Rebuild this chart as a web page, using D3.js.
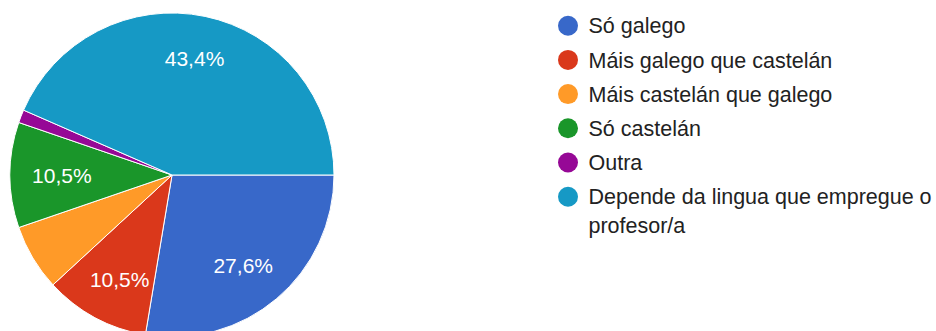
<!DOCTYPE html>
<html>
<head>
<meta charset="utf-8">
<script src="https://cdn.jsdelivr.net/npm/d3@7/dist/d3.min.js"></script>
<style>
  html, body { margin: 0; padding: 0; background: #fff; }
  svg { display: block; font-family: "Liberation Sans", Arial, sans-serif; }
</style>
</head>
<body>
<svg id="chart" width="936" height="331"></svg>
<script>
// Answers and their share of responses (%)
const categories = [
  "Só galego",
  "Máis galego que castelán",
  "Máis castelán que galego",
  "Só castelán",
  "Outra",
  "Depende da lingua que empregue o profesor/a"
];
const values = [27.6, 10.5, 6.6, 10.5, 1.3, 43.4];
const colors = ["#3868c9", "#da381b", "#ff9a28", "#1a962a", "#960896", "#1699c5"];
// Legend lines (long labels wrap onto a second line)
const legendLines = [
  ["Só galego"],
  ["Máis galego que castelán"],
  ["Máis castelán que galego"],
  ["Só castelán"],
  ["Outra"],
  ["Depende da lingua que empregue o", "profesor/a"]
];

const svg = d3.select("#chart");
const cx = 172, cy = 175, radius = 162;
const labelMin = 8; // slices below this share get no label

const color = d3.scaleOrdinal().domain(categories).range(colors);

const pie = d3.pie()
  .value(d => d.value)
  .sort(null)
  .startAngle(Math.PI / 2)
  .endAngle(Math.PI / 2 + 2 * Math.PI);

const data = categories.map((c, i) => ({ name: c, value: values[i] }));
const arcs = pie(data);

const arc = d3.arc().innerRadius(0).outerRadius(radius);

const g = svg.append("g").attr("transform", `translate(${cx},${cy})`);

g.selectAll("path.slice")
  .data(arcs)
  .join("path")
  .attr("class", "slice")
  .attr("d", arc)
  .attr("fill", d => color(d.data.name))
  .attr("stroke", "#fff")
  .attr("stroke-width", 1);

const fmt = v => v.toFixed(1).replace(".", ",") + "%";

// Percent labels sit inside each slice along its middle angle; wide text
// boxes are pulled slightly further in horizontally than vertically.
const labelRx = radius * 0.68, labelRy = radius * 0.735;
const labelPos = d => {
  const a = (d.startAngle + d.endAngle) / 2;
  return [Math.sin(a) * labelRx, -Math.cos(a) * labelRy];
};

g.selectAll("text.pct")
  .data(arcs.filter(d => d.data.value >= labelMin))
  .join("text")
  .attr("class", "pct")
  .attr("transform", d => `translate(${labelPos(d)})`)
  .attr("text-anchor", "middle")
  .attr("dy", "0.36em")
  .attr("fill", "#fff")
  .attr("font-size", 21)
  .text(d => fmt(d.data.value));

// Legend
const legendX = 568, legendY0 = 25.7, legendStep = 34.2, lineH = 29;
const legend = svg.append("g");
const items = legend.selectAll("g.item")
  .data(categories)
  .join("g")
  .attr("class", "item")
  .attr("transform", (d, i) => `translate(${legendX},${legendY0 + i * legendStep})`);

items.append("circle")
  .attr("r", 10)
  .attr("fill", d => color(d));

items.each(function(d, i) {
  const t = d3.select(this).append("text")
    .attr("x", 20.5)
    .attr("y", 7.6)
    .attr("fill", "#222")
    .attr("font-size", 21.5);
  legendLines[i].forEach((line, j) => {
    t.append("tspan").attr("x", 20.5).attr("y", 7.6 + j * lineH).text(line);
  });
});
</script>
</body>
</html>
